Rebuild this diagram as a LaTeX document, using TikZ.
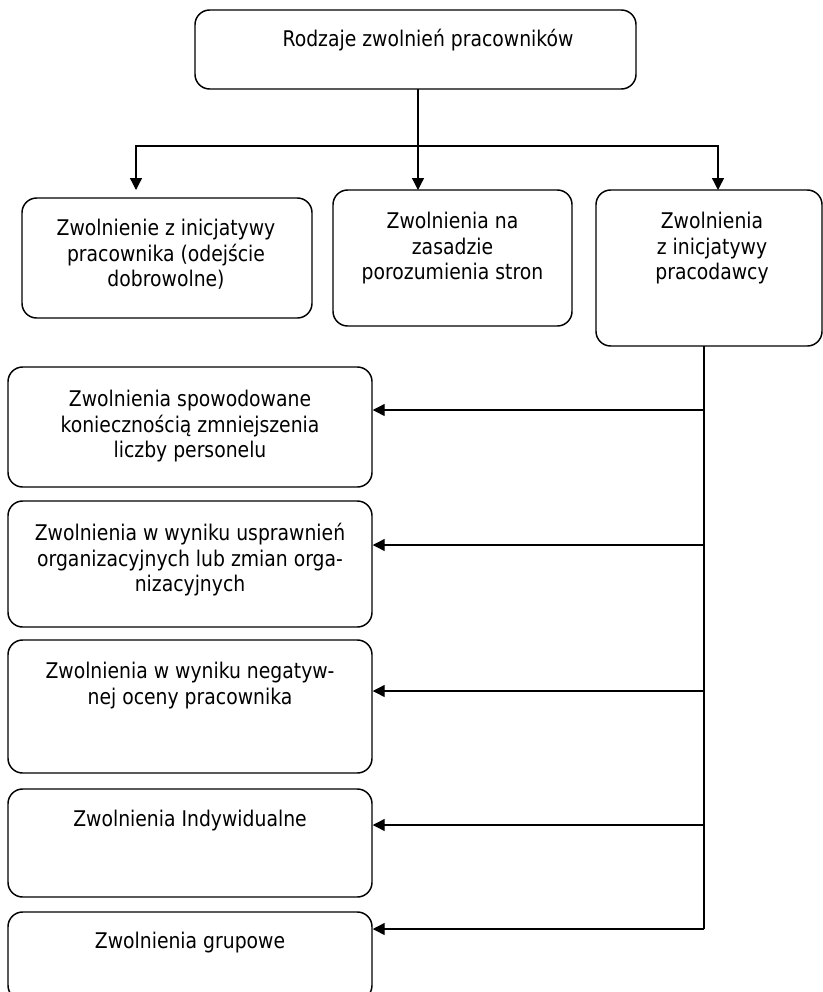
\documentclass[tikz,border=0pt]{standalone}
\usepackage{fontspec}
\setmainfont{DejaVu Sans}[FakeStretch=0.87]
\usetikzlibrary{arrows.meta}
\begin{document}
\begin{tikzpicture}[x=0.75pt,y=-0.75pt,
  box/.style={draw,line width=1.1pt,rounded corners=11pt,rectangle,inner sep=0pt},
  txt/.style={anchor=north,align=center,inner sep=0pt,
    font=\fontsize{16.2pt}{19.1pt}\selectfont,execute at begin node=\strut},
  link/.style={line width=1pt},
  arr/.style={line width=1pt,-{Triangle[length=9pt,width=9pt]}}]
\useasboundingbox[fill=white] (0,0) rectangle (823,992);
% boxes
\node[box,minimum width=330.75pt,minimum height=59.25pt] (top) at (415.5,49.5) {};
\node[box,minimum width=217.5pt,minimum height=90pt] (b1) at (167,258) {};
\node[box,minimum width=179.25pt,minimum height=102pt] (b2) at (452.5,258) {};
\node[box,minimum width=169.5pt,minimum height=117pt] (b3) at (709,268) {};
\node[box,minimum width=273pt,minimum height=90pt] (b4) at (190,427) {};
\node[box,minimum width=273pt,minimum height=94.5pt] (b5) at (190,564) {};
\node[box,minimum width=273pt,minimum height=99.75pt] (b6) at (190,706.5) {};
\node[box,minimum width=273pt,minimum height=81pt] (b7) at (190,843) {};
\node[box,minimum width=273pt,minimum height=66pt] (b8) at (190,956) {};
% texts
\node[txt] (t0) at (428,28) {Rodzaje zwolnień pracowników};
\node[txt] (t1) at (166,219) {Zwolnienie z inicjatywy\\pracownika (odejście\\dobrowolne)};
\node[txt] (t2) at (452.5,212) {Zwolnienia na\\zasadzie\\porozumienia stron};
\node[txt] (t3) at (712,212) {Zwolnienia\\z inicjatywy\\pracodawcy};
\node[txt] (t4) at (190,390) {Zwolnienia spowodowane\\koniecznością zmniejszenia\\liczby personelu};
\node[txt] (t5) at (190,523) {Zwolnienia w wyniku usprawnień\\organizacyjnych lub zmian orga-\\nizacyjnych};
\node[txt] (t6) at (190,662) {Zwolnienia w wyniku negatyw-\\nej oceny pracownika};
\node[txt] (t7) at (190,808) {Zwolnienia Indywidualne};
\node[txt] (t8) at (190,930) {Zwolnienia grupowe};
% connector points
\coordinate (s0) at (418,89);
\coordinate (j) at (418,146);
\coordinate (a1) at (136,190);
\coordinate (a2) at (418,190);
\coordinate (a3) at (718,190);
\coordinate (v0) at (704,346);
\coordinate (v4) at (704,410);
\coordinate (v5) at (704,545);
\coordinate (v6) at (704,691);
\coordinate (v7) at (704,825);
\coordinate (v8) at (704,929);
% connectors
\draw[arr] (s0) -- (a2);
\draw[arr] (j) -| (a1);
\draw[arr] (j) -| (a3);
\draw[link] (v0) -- (v8);
\draw[arr] (v4) -- (v4 -| b4.east);
\draw[arr] (v5) -- (v5 -| b5.east);
\draw[arr] (v6) -- (v6 -| b6.east);
\draw[arr] (v7) -- (v7 -| b7.east);
\draw[arr] (v8) -- (v8 -| b8.east);
\end{tikzpicture}
\end{document}
